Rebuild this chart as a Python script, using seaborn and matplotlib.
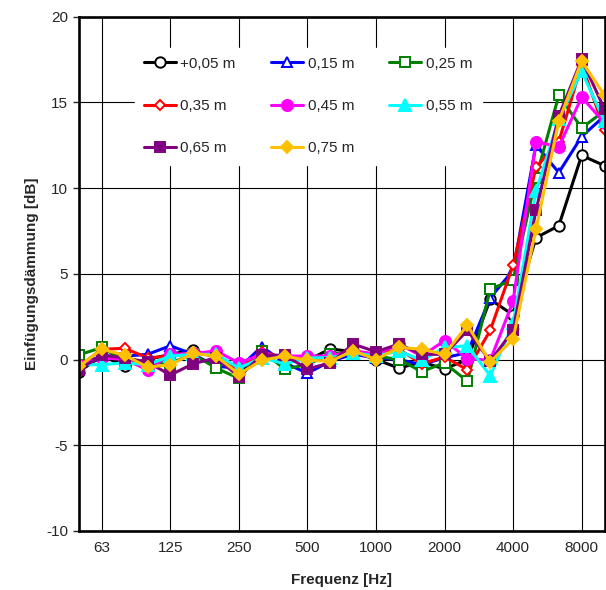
import matplotlib
matplotlib.use("Agg")
import matplotlib.pyplot as plt
import seaborn as sns
import numpy as np

# Terzbänder 50 Hz ... 10 kHz
bands = ['50', '63', '80', '100', '125', '160', '200', '250', '315', '400', '500', '630',
         '800', '1000', '1250', '1600', '2000', '2500', '3150', '4000', '5000', '6300', '8000', '10000']
tick_labels = ['63', '125', '250', '500', '1000', '2000', '4000', '8000']

# Einfügungsdämmung [dB] je Abstand
d_005 = [-0.7, 0.2, -0.35, 0.0, 0.3, 0.56, 0.1, -0.8, 0.3, 0.1, -0.05, 0.62,
         0.45, 0.0, -0.5, -0.15, -0.55, 0.0, 3.5, 2.6, 7.1, 7.8, 11.9, 11.3]
d_015 = [-0.3, 0.2, 0.2, 0.3, 0.8, 0.3, -0.4, -0.5, 0.75, -0.2, -0.8, -0.1,
         0.3, 0.1, 0.0, -0.3, 0.1, 0.4, 3.6, 5.2, 12.5, 10.9, 13.0, 14.2]
d_025 = [0.27, 0.7, -0.1, -0.2, -0.2, 0.3, -0.5, -1.1, 0.5, -0.55, -0.3, 0.33,
         0.4, 0.2, 0.0, -0.7, -0.2, -1.27, 4.1, 4.65, 10.6, 15.4, 13.5, 14.5]
d_035 = [-0.4, 0.6, 0.65, 0.1, 0.2, 0.4, 0.3, -0.6, 0.45, 0.1, 0.0, 0.2,
         0.5, 0.3, 0.6, -0.25, 0.15, -0.6, 1.7, 5.5, 11.2, 12.7, 17.2, 13.4]
d_045 = [-0.3, 0.1, 0.0, -0.6, 0.3, 0.35, 0.5, -0.2, 0.3, 0.2, 0.2, 0.2,
         0.5, 0.3, 0.9, 0.2, 1.1, 0.05, -0.05, 3.4, 12.7, 12.4, 15.3, 13.8]
d_055 = [-0.3, -0.3, -0.2, -0.3, 0.2, 0.3, 0.3, -0.5, 0.1, -0.25, 0.1, 0.1,
         0.4, 0.2, 0.5, -0.05, 0.7, 0.8, -0.95, 2.1, 9.8, 14.0, 16.8, 13.9]
d_065 = [-0.6, 0.25, 0.1, -0.15, -0.9, -0.25, 0.1, -1.0, 0.25, 0.25, -0.55, -0.2,
         0.9, 0.45, 0.9, 0.3, 0.3, 1.7, -0.1, 1.7, 8.7, 14.2, 17.5, 14.6]
d_075 = [-0.4, 0.6, 0.25, -0.45, -0.3, 0.35, 0.2, -0.85, -0.05, 0.2, -0.05, -0.1,
         0.5, 0.0, 0.7, 0.6, 0.3, 2.0, -0.15, 1.2, 7.6, 13.9, 17.4, 15.4]

labels = ['+0,05 m', '0,15 m', '0,25 m', '0,35 m', '0,45 m', '0,55 m', '0,65 m', '0,75 m']
series = [d_005, d_015, d_025, d_035, d_045, d_055, d_065, d_075]

# Stil je Kurve: Farbe, Marker, gefüllt?, Markergröße
styles = [('#000000', 'o', False, 7.5),
          ('#0000FF', '^', False, 7.5),
          ('#008000', 's', False, 7),
          ('#FF0000', 'D', False, 5.5),
          ('#FF00FF', 'o', True, 8),
          ('#00FFFF', '^', True, 8),
          ('#800080', 's', True, 7.5),
          ('#FFC000', 'D', True, 6.5)]

sns.set_style("white")
plt.rcParams['font.family'] = ['Liberation Sans', 'DejaVu Sans']
plt.rcParams['axes.unicode_minus'] = False

fig = plt.figure(figsize=(6.06, 5.90), dpi=100)
ax = fig.add_axes([79 / 606, 59 / 590, 525.5 / 606, 514.5 / 590])

x = np.arange(len(bands))
for vals, lab, (col, mk, filled, ms) in zip(series, labels, styles):
    sns.lineplot(x=x, y=vals, ax=ax, color=col, linewidth=2.2, label=lab,
                 marker=mk, markersize=ms, markeredgecolor=col,
                 markerfacecolor=col if filled else 'white', markeredgewidth=1.4)

ax.set_xlim(0, len(bands) - 1)
ax.set_ylim(-10, 20)
ax.set_yticks(np.arange(-10, 21, 5))
tick_pos = [bands.index(t) for t in tick_labels]
ax.set_xticks(tick_pos)
ax.set_xticklabels(tick_labels)
ax.grid(True, color='black', linewidth=0.8)
ax.tick_params(axis='x', length=0, pad=7, labelsize=11)
ax.tick_params(axis='y', length=4, width=1, direction='out', pad=4, labelsize=11, left=True)
for s in ax.spines.values():
    s.set_color('black')
    s.set_linewidth(1.9)

ax.set_xlabel('Frequenz [Hz]', fontsize=11, fontweight='bold', labelpad=13)
ax.set_ylabel('Einfügungsdämmung [dB]', fontsize=11, fontweight='bold', labelpad=5)

# Legende zeilenweise füllen (matplotlib füllt spaltenweise)
handles, labs = ax.get_legend_handles_labels()
order = [0, 3, 6, 1, 4, 7, 2, 5]
leg = ax.legend([handles[i] for i in order], [labs[i] for i in order],
                loc='upper left', bbox_to_anchor=(127 / 606, 1 - 40 / 590),
                bbox_transform=fig.transFigure, ncol=3, frameon=True,
                fontsize=11, handlelength=2.1, handletextpad=0.3,
                columnspacing=2.3, labelspacing=1.85, borderpad=0.6)
leg.get_frame().set_facecolor('white')
leg.get_frame().set_edgecolor('white')
leg.get_frame().set_alpha(1)
leg.get_frame().set_boxstyle('square', pad=0)

fig.savefig('out.png', dpi=100)
